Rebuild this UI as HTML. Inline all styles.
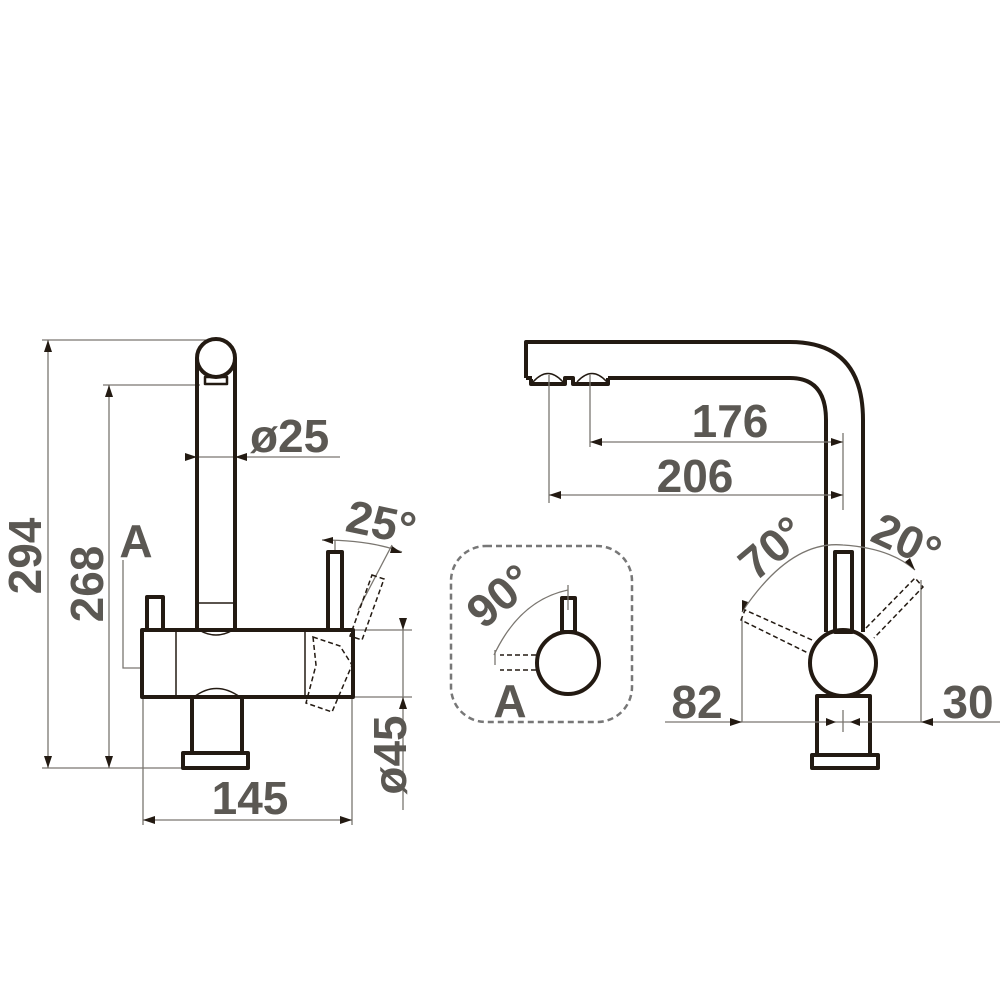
<!DOCTYPE html>
<html><head><meta charset="utf-8"><style>
html,body{margin:0;padding:0;background:#fff}
svg{display:block}
.o{fill:none;stroke:#231a12;stroke-width:4;stroke-linejoin:round}
.d{fill:none;stroke:#7a7670;stroke-width:1.3}
.ds{fill:none;stroke:#231a12;stroke-width:1.5;stroke-dasharray:5 3}
text{font-family:"Liberation Sans",sans-serif;font-weight:bold;font-size:46px;fill:#5b5853}
.a{fill:#231a12}
</style></head><body>
<svg width="1000" height="1000" viewBox="0 0 1000 1000">
<!-- LEFT VIEW -->
<g class="d">
<line x1="42" y1="340" x2="215" y2="340"/>
<line x1="42" y1="768" x2="185" y2="768"/>
<line x1="48" y1="340" x2="48" y2="768"/>
<line x1="103" y1="385" x2="200" y2="385"/>
<line x1="109" y1="385" x2="109" y2="768"/>
<line x1="185" y1="457" x2="340" y2="457"/>
<polyline points="123,560 123,668 142,668"/>
<line x1="143" y1="697" x2="143" y2="825"/>
<line x1="352" y1="697" x2="352" y2="825"/>
<line x1="143" y1="820" x2="352" y2="820"/>
<line x1="355" y1="630" x2="412" y2="630"/>
<line x1="355" y1="697" x2="412" y2="697"/>
<line x1="403" y1="620" x2="403" y2="810"/>
<line x1="335" y1="540" x2="335" y2="552"/>
<path d="M322,540 Q370,540 402,552"/>
<line x1="358" y1="610" x2="392" y2="545"/>
</g>
<g class="a">
<polygon points="48,340 44,352 52,352"/><polygon points="48,768 44,756 52,756"/>
<polygon points="109,385 105,397 113,397"/><polygon points="109,768 105,756 113,756"/>
<polygon points="197,457 185,453 185,461"/><polygon points="235,457 247,453 247,461"/>
<polygon points="143,820 155,816 155,824"/><polygon points="352,820 340,816 340,824"/>
<polygon points="403,630 399,618 407,618"/><polygon points="403,697 399,709 407,709"/>
<polygon points="322,540 333,537 333,544"/><polygon points="402,553 392,546 390,553"/>
</g>
<g class="o">
<circle cx="216" cy="358" r="19"/>
<line x1="197" y1="358" x2="197" y2="630"/>
<line x1="235" y1="358" x2="235" y2="630"/>
<rect x="205" y="377" width="22" height="7" stroke-width="2.5"/>
<rect x="142" y="630" width="211" height="67"/>
<rect x="147" y="597" width="16" height="33"/>
<rect x="328" y="552" width="14" height="78"/>
<rect x="192" y="697" width="50" height="56"/>
<rect x="183" y="753" width="65" height="15"/>
</g>
<g fill="none" stroke="#231a12" stroke-width="1.5">
<line x1="176" y1="630" x2="176" y2="697"/>
<line x1="197" y1="603" x2="235" y2="603"/>
<path d="M199,630 Q216,640 233,630"/>
<path d="M194,697 Q216,680 240,697"/>
<line x1="305" y1="630" x2="305" y2="697"/>
</g>
<g class="ds">
<polygon points="313,637 340,646 352,665 332,712 306,703 316,665"/>
<polygon points="372,575 384,579 362,640 350,636"/>
</g>
<text x="25" y="556" text-anchor="middle" transform="rotate(-90 25 556)" dy="16">294</text>
<text x="87" y="584" text-anchor="middle" transform="rotate(-90 87 584)" dy="16">268</text>
<text x="136" y="557" text-anchor="middle">A</text>
<text x="250" y="452" font-size="40">ø</text>
<text x="278" y="452">25</text>
<text x="250" y="814" text-anchor="middle">145</text>
<text x="390" y="755" text-anchor="middle" transform="rotate(-90 390 755)" dy="16">ø45</text>
<text x="378" y="538" text-anchor="middle" transform="rotate(12 378 538)">25°</text>

<!-- BOX A -->
<rect x="451" y="546" width="181" height="176" rx="35" fill="none" stroke="#777" stroke-width="2.5" stroke-dasharray="6 4"/>
<g class="o">
<circle cx="568" cy="663" r="31"/>
<rect x="562" y="598" width="13" height="34"/>
</g>
<g class="ds"><polyline points="536,655 500,655"/><polyline points="536,670 500,670"/></g>
<g class="d"><path d="M494,655 Q520,600 568,590"/><line x1="568" y1="585" x2="568" y2="610"/><line x1="495" y1="650" x2="495" y2="665"/></g>
<text x="510" y="608" text-anchor="middle" transform="rotate(-40 510 608)">90°</text>
<text x="510" y="717" text-anchor="middle">A</text>

<!-- RIGHT VIEW -->
<g class="o">
<path d="M526,378 L526,342 L790,342 Q863,342 863,420 L863,632"/>
<path d="M826,632 L826,420 Q826,378 790,378 L608,378"/>
<path d="M526,378 L532,378"/>
<path d="M531,379 L531,384 L565,384 L565,378 L573,378 L573,384 L608,384 L608,378"/>
<rect x="835" y="552" width="17" height="80"/>
<circle cx="843" cy="663" r="33"/>
<rect x="817" y="696" width="53" height="59"/>
<rect x="812" y="755" width="66" height="13"/>
</g>
<g fill="none" stroke="#231a12" stroke-width="1.5">
<path d="M533,382 Q548,365 563,382"/><path d="M577,382 Q592,365 607,382"/>
</g>
<g class="d">
<line x1="549" y1="375" x2="549" y2="503"/><line x1="590" y1="375" x2="590" y2="447"/>
<line x1="843" y1="433" x2="843" y2="510"/>
<line x1="590" y1="442" x2="843" y2="442"/>
<line x1="549" y1="495" x2="843" y2="495"/>
<path d="M742,612 Q790,540 843,545 Q890,548 915,570"/>
<line x1="742" y1="618" x2="742" y2="722"/>
<line x1="921" y1="580" x2="921" y2="722"/>
<line x1="665" y1="722" x2="1000" y2="722"/>
<line x1="843" y1="710" x2="843" y2="732"/>
</g>
<g class="a">
<polygon points="590,442 602,438 602,446"/><polygon points="843,442 831,438 831,446"/>
<polygon points="549,495 561,491 561,499"/><polygon points="843,495 831,491 831,499"/>
<polygon points="742,612 742,600 748,602"/><polygon points="915,570 905,562 910,558"/>
<polygon points="742,722 730,718 730,726"/><polygon points="921,722 933,718 933,726"/>
<polygon points="836,722 826,718 826,726"/><polygon points="850,722 860,718 860,726"/>
</g>
<g class="ds">
<polyline points="812,640 745,610 741,620 808,653"/>
<polyline points="866,628 915,578 923,587 874,638"/>
</g>
<text x="730" y="437" text-anchor="middle">176</text>
<text x="695" y="492" text-anchor="middle">206</text>
<text x="782" y="560" text-anchor="middle" transform="rotate(-40 782 560)">70°</text>
<text x="900" y="555" text-anchor="middle" transform="rotate(25 900 555)">20°</text>
<text x="697" y="718" text-anchor="middle">82</text>
<text x="968" y="718" text-anchor="middle">30</text>
</svg>
</body></html>
